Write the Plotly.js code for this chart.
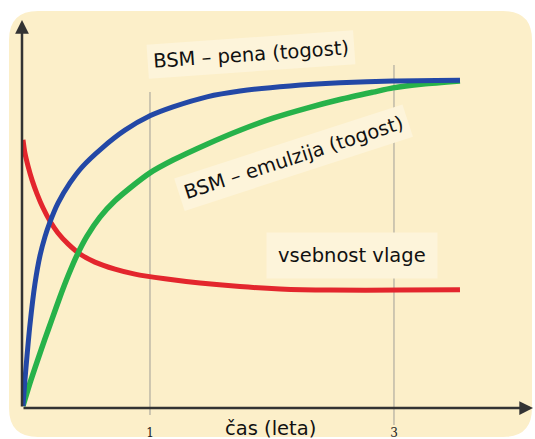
<!DOCTYPE html>
<html>
<head>
<meta charset="utf-8">
<script src="https://cdn.plot.ly/plotly-3.0.1.min.js"></script>
<style>
html,body{margin:0;padding:0;background:#ffffff;}
#chart{width:535px;height:439px;}
</style>
</head>
<body>
<div id="chart"></div>
<script>
// Time (years) and relative values
const penaX = [-0.041,-0.025,-0.008,0.016,0.057,0.098,0.139,0.180,0.246,0.344,0.443,0.607,0.795,1.0,1.189,1.467,1.738,2.148,2.557,2.992,3.541];
const penaY = [0.5,7.2,13.4,21.4,32.0,39.2,44.1,47.9,52.8,58.0,62.1,67.0,71.6,75.3,77.6,80.2,81.7,83.0,83.8,84.3,84.5];

const emulzijaX = [-0.041,0.016,0.082,0.139,0.197,0.262,0.328,0.402,0.484,0.590,0.713,0.836,1.0,1.189,1.467,1.738,2.008,2.287,2.557,2.828,2.992,3.238,3.541];
const emulzijaY = [0.5,6.4,12.6,17.8,22.9,28.6,34.0,39.4,44.3,49.2,53.4,56.7,60.6,63.9,68.0,71.6,74.7,77.3,79.5,81.4,82.5,83.5,84.3];

const vlagaX = [-0.041,-0.025,0.0,0.033,0.074,0.123,0.180,0.246,0.328,0.426,0.549,0.713,0.877,1.123,1.410,1.738,2.066,2.475,3.049,3.541];
const vlagaY = [69.1,65.7,62.4,58.8,55.2,51.6,48.2,45.1,42.3,39.7,37.6,35.8,34.5,33.3,32.2,31.3,30.7,30.4,30.4,30.5];

const tickVals = [1, 3];
const tickText = ['1', '3'];

const seriesNames = ['BSM – pena (togost)', 'BSM – emulzija (togost)', 'vsebnost vlage'];
const xTitle = 'čas (leta)';

const traces = [
  {x: vlagaX, y: vlagaY, name: seriesNames[2], mode: 'lines', line: {color: '#e3262d', width: 5, shape: 'spline', smoothing: 0.7}},
  {x: emulzijaX, y: emulzijaY, name: seriesNames[1], mode: 'lines', line: {color: '#27b24a', width: 5.5, shape: 'spline', smoothing: 0.7}},
  {x: penaX, y: penaY, name: seriesNames[0], mode: 'lines', line: {color: '#2348a6', width: 5, shape: 'spline', smoothing: 0.7}}
];

// background rounded panel in paper coordinates (plot: px 22..535 x, 20..408 y)
function px2paperX(p){ return (p - 22) / 513; }
function px2paperY(p){ return (408 - p) / 388; }
const x0 = px2paperX(8), x1 = px2paperX(533), y0 = px2paperY(438), y1 = px2paperY(10);
const rx = 30/513, ry = 30/388;
const panelPath = `M ${x0+rx},${y1} L ${x1-rx},${y1} Q ${x1},${y1} ${x1},${y1-ry} L ${x1},${y0+ry} Q ${x1},${y0} ${x1-rx},${y0} L ${x0+rx},${y0} Q ${x0},${y0} ${x0},${y0+ry} L ${x0},${y1-ry} Q ${x0},${y1} ${x0+rx},${y1} Z`;

const gridTop = [px2paperY(92), px2paperY(65)];
const gridBottom = [px2paperY(415), px2paperY(425)];

const shapes = [
  {type: 'path', xref: 'paper', yref: 'paper', path: panelPath, fillcolor: '#fcefc9', line: {color: '#ffffff', width: 2}, layer: 'below'}
];
tickVals.forEach((v, i) => {
  shapes.push({type: 'line', xref: 'x', yref: 'paper', x0: v, x1: v, y0: gridBottom[i], y1: gridTop[i], line: {color: 'rgba(140,140,140,0.55)', width: 1.5}, layer: 'below'});
});

const labelFont = {family: 'DejaVu Sans, Verdana, sans-serif', size: 19.5, color: '#111111'};
const annotations = [
  {x: 1.83, y: 91, xref: 'x', yref: 'y', text: seriesNames[0], showarrow: false, textangle: -4, font: labelFont, bgcolor: '#fdf4da', borderpad: 5},
  {x: 2.18, y: 64.6, xref: 'x', yref: 'y', text: seriesNames[1], showarrow: false, textangle: -18, font: labelFont, bgcolor: '#fdf4da', borderpad: 5},
  {x: 2.656, y: 39.2, xref: 'x', yref: 'y', text: seriesNames[2], showarrow: false, font: labelFont, bgcolor: '#fdf4da', borderpad: 11},
  {x: px2paperX(270), y: px2paperY(428), xref: 'paper', yref: 'paper', xanchor: 'center', yanchor: 'middle', text: xTitle, showarrow: false, font: {family: 'DejaVu Sans, Verdana, sans-serif', size: 19.5, color: '#111111'}},
  // axis arrows
  {x: -0.049, y: 100, xref: 'x', yref: 'y', ax: -0.049, ay: 0, axref: 'x', ayref: 'y', showarrow: true, arrowhead: 2, arrowsize: 1.1, arrowwidth: 2.5, arrowcolor: '#333333', text: ''},
  {x: 4.14, y: 0, xref: 'x', yref: 'y', ax: -0.049, ay: 0, axref: 'x', ayref: 'y', showarrow: true, arrowhead: 2, arrowsize: 1.1, arrowwidth: 2.5, arrowcolor: '#333333', text: ''}
];

const layout = {
  width: 535, height: 439,
  margin: {l: 22, r: 0, t: 20, b: 31},
  paper_bgcolor: '#ffffff',
  plot_bgcolor: 'rgba(0,0,0,0)',
  showlegend: false,
  xaxis: {
    range: [-0.049, 4.156],
    tickvals: tickVals, ticktext: tickText,
    tickfont: {family: 'DejaVu Serif, Liberation Serif, serif', size: 12, color: '#222222'},
    ticks: 'outside', ticklen: 14, tickcolor: 'rgba(0,0,0,0)',
    showgrid: false, zeroline: false, showline: false, fixedrange: true
  },
  yaxis: {
    range: [0, 100],
    showticklabels: false, ticks: '', showgrid: false, zeroline: false, showline: false, fixedrange: true
  },
  shapes: shapes,
  annotations: annotations
};

Plotly.newPlot('chart', traces, layout, {displayModeBar: false, staticPlot: true});
</script>
</body>
</html>
